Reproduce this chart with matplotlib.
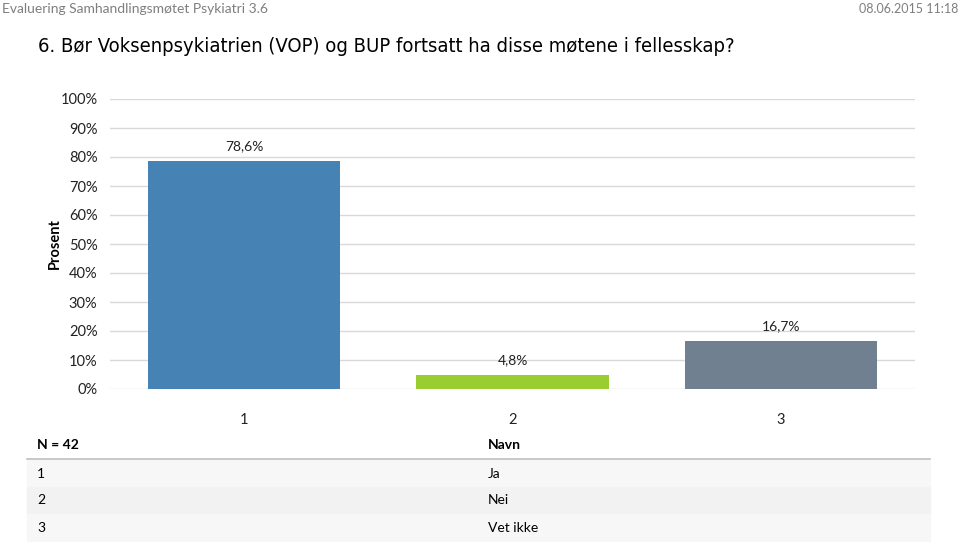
import matplotlib
matplotlib.use("Agg")
import matplotlib.pyplot as plt
from matplotlib.patches import Rectangle

# data
categories = ["1", "2", "3"]
values = [78.6, 4.8, 16.7]
labels = ["78,6%", "4,8%", "16,7%"]
colors = ["#4682B4", "#9ACD32", "#708090"]
names = ["Ja", "Nei", "Vet ikke"]
n_total = 42
yticks = list(range(0, 101, 10))

plt.rcParams['font.family'] = ['Lato', 'DejaVu Sans']

W, H = 960, 542
fig = plt.figure(figsize=(W / 100, H / 100), dpi=100)

def fx(px):
    return px / W

def fy(py):
    return 1 - py / H

# header
fig.text(fx(2), fy(9), "Evaluering Samhandlingsmøtet Psykiatri 3.6", color="#7f7f7f",
         fontsize=10, va="center", ha="left")
fig.text(fx(958), fy(9), "08.06.2015 11:18", color="#7f7f7f",
         fontsize=9, va="center", ha="right")
fig.text(fx(38), fy(47), "6. Bør Voksenpsykiatrien (VOP) og BUP fortsatt ha disse møtene i fellesskap?",
         fontsize=14.5, va="center", ha="left", stretch="condensed",
         family=['Liberation Sans Narrow', 'DejaVu Sans'])

# chart
ax = fig.add_axes([fx(110), fy(389), fx(915) - fx(110), fy(99) - fy(389)])
x = range(len(categories))
bars = ax.bar(x, values, width=0.716, color=colors, zorder=3)
for b, lab in zip(bars, labels):
    ax.text(b.get_x() + b.get_width() / 2, b.get_height() + 3, lab,
            ha="center", va="bottom", fontsize=10, color="#222222")
ax.set_xlim(-0.5, len(categories) - 0.5)
ax.set_ylim(0, 100)
ax.set_yticks(yticks)
ax.set_yticklabels([f"{t}%" for t in yticks])
ax.set_xticks(list(x))
ax.set_xticklabels(categories)
ax.grid(axis="y", color="#d9d9d9", linewidth=1, zorder=0)
for s in ax.spines.values():
    s.set_visible(False)
ax.tick_params(length=0, labelsize=10.5, colors="#222222")
ax.tick_params(axis="y", pad=9)
ax.tick_params(axis="x", pad=17)
ax.set_ylabel("Prosent", fontsize=10.5, fontweight="bold", va="center")
ax.yaxis.set_label_coords(-(110 - 55) / 805, 0.5)

# table
tl, tr = 27, 930
col2 = 488
fig.text(fx(37), fy(445), f"N = {n_total}", fontsize=10, fontweight="bold", va="center")
fig.text(fx(col2), fy(445), "Navn", fontsize=10, fontweight="bold", va="center")
fig.add_artist(plt.Line2D([fx(tl), fx(tr)], [fy(459), fy(459)], color="#bfbfbf", linewidth=1.2))
row_h = 27
for i, (c, nm) in enumerate(zip(categories, names)):
    top = 460 + i * row_h
    shade = "#f7f7f7" if i % 2 == 0 else "#f2f2f2"
    fig.add_artist(Rectangle((fx(tl), fy(top + row_h)), fx(tr) - fx(tl), row_h / H,
                             transform=fig.transFigure, color=shade, zorder=0))
    yc = top + row_h / 2
    fig.text(fx(37), fy(yc), c, fontsize=10, va="center")
    fig.text(fx(col2), fy(yc), nm, fontsize=10, va="center")

fig.savefig("out.png", dpi=100)
